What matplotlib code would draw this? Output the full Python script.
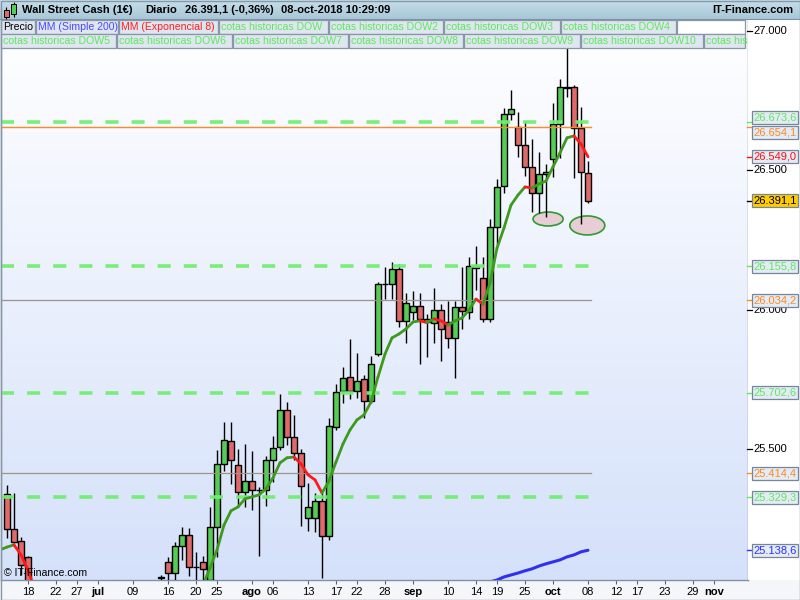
import numpy as np
import pandas as pd
import matplotlib
matplotlib.use('Agg')
import matplotlib.pyplot as plt
from matplotlib.patches import Rectangle, Ellipse
from matplotlib.collections import LineCollection
from matplotlib.colors import to_rgb

plt.rcParams['font.family'] = ['Liberation Sans', 'DejaVu Sans']
plt.rcParams['lines.scale_dashes'] = False

# ---------------- data ----------------
base_day = '2018-06-13'

# visible candles, block A (from 13-jun-2018)
start_a = '2018-06-13'
open_a = [25341, 25215, 25172, 25115]
high_a = [25373, 25344, 25187, 25118]
low_a = [25183, 25165, 25050, 24990]
close_a = [25215, 25169, 25086, 24996]

# visible candles, block B (from 13-jul-2018 to 08-oct-2018)
start_b = '2018-07-13'
open_b = [25042, 25097, 25057, 25154, 25194, 25080, 25097, 25032, 25223, 25448,
          25531, 25445, 25348, 25387, 25355, 25355, 25462, 25509, 25642, 25545,
          25487, 25255, 25255, 25315, 25190, 25581, 25710, 25760, 25710, 25753,
          25674, 25842, 26093, 26093, 26147, 25961, 25993, 26014, 25968, 25953,
          26000, 25957, 25900, 26011, 25993, 26158, 26115, 25968, 26297, 26444,
          26702, 26656, 26591, 26513, 26419, 26487, 26541, 26667, 26799, 26799,
          26652, 26491]
high_b = [25050, 25115, 25169, 25223, 25219, 25133, 25118, 25294, 25498, 25599,
          25599, 25502, 25520, 25495, 25366, 25477, 25548, 25699, 25670, 25624,
          25502, 25380, 25344, 25344, 25613, 25735, 25796, 25896, 25846, 25767,
          25835, 26100, 26154, 26172, 26165, 26061, 26068, 26061, 25986, 26079,
          26021, 26032, 26032, 26154, 26190, 26229, 26190, 26326, 26470, 26724,
          26788, 26710, 26677, 26613, 26566, 26523, 26742, 26828, 26939, 26806,
          26728, 26534]
low_b = [25010, 24996, 25014, 25104, 25047, 25032, 25014, 24996, 25115, 25423,
         25376, 25294, 25294, 25283, 25118, 25297, 25384, 25498, 25516, 25462,
         25226, 25208, 25204, 25040, 25176, 25570, 25667, 25681, 25685, 25613,
         25667, 25835, 26039, 26039, 25939, 25882, 25964, 25806, 25832, 25882,
         25817, 25864, 25756, 25932, 25968, 26072, 25957, 25957, 26233, 26419,
         26681, 26548, 26480, 26351, 26348, 26333, 26477, 26545, 26763, 26473,
         26308, 26384]
close_b = [25040, 25057, 25154, 25194, 25079, 25078, 25072, 25223, 25448, 25534,
           25462, 25348, 25387, 25355, 25354, 25462, 25505, 25642, 25545, 25487,
           25369, 25294, 25315, 25190, 25584, 25706, 25756, 25710, 25746, 25674,
           25806, 26093, 26092, 26147, 25961, 26025, 26014, 25968, 25957, 26000,
           25932, 25900, 26011, 25996, 26158, 26150, 25968, 26297, 26441, 26702,
           26720, 26591, 26513, 26419, 26487, 26495, 26667, 26799, 26797, 26652,
           26495, 26391.1]

# MM (Exponencial 8)
ema_a_start = '2018-06-12'
ema_a = [25140, 25150, 25158, 25122, 25068, 24996]
ema_b_start = '2018-07-23'
ema_b = [25014, 25075, 25140, 25229, 25280, 25294, 25323, 25330, 25337, 25359,
         25398, 25452, 25470, 25473, 25448, 25409, 25391, 25344, 25387, 25455,
         25520, 25570, 25606, 25624, 25670, 25760, 25842, 25900, 25914, 25932,
         25957, 25961, 25955, 25968, 25961, 25946, 25961, 25971, 26000, 26039,
         26021, 26097, 26222, 26294, 26376, 26412, 26441, 26437, 26452, 26462,
         26513, 26563, 26617, 26624, 26595, 26549.0]

# MM (Simple 200)
sma_start = '2018-09-17'
sma200 = [25014, 25025, 25032, 25043, 25050, 25057, 25065, 25072, 25082, 25090,
          25097, 25104, 25115, 25122, 25133, 25138.6]

# cotas historicas
dow_levels = [26673.6, 26155.8, 25702.6, 25329.3]
orange_level = 26654.1
gray_levels = [26034.2, 25414.4]

# marked lows (ellipses): centre day index, centre price, width (days), height (price)
ell_x = [77.3, 82.9]
ell_y = [26326, 26303]
ell_w = [4.3, 5.0]
ell_h = [50, 68]

price_ticks = [27000, 26500, 26000, 25500]
tick_dates = ['2018-06-18', '2018-06-22', '2018-06-27', '2018-07-02', '2018-07-09',
              '2018-07-16', '2018-07-20', '2018-07-25', '2018-08-01', '2018-08-06',
              '2018-08-13', '2018-08-17', '2018-08-22', '2018-08-28', '2018-09-03',
              '2018-09-10', '2018-09-14', '2018-09-19', '2018-09-25', '2018-10-01',
              '2018-10-08', '2018-10-12', '2018-10-17', '2018-10-23', '2018-10-29',
              '2018-11-01']
tick_labels = ['18', '22', '27', 'jul', '09', '16', '20', '25', 'ago', '06', '13', '17',
               '22', '28', 'sep', '10', '14', '19', '25', 'oct', '08', '12', '17', '23',
               '29', 'nov']

title_txt = 'Wall Street Cash (1€)'
period_txt = 'Diario'
last_txt = '26.391,1 (-0,36%)'
date_txt = '08-oct-2018 10:29:09'
brand_txt = 'IT-Finance.com'

# ---------------- helpers ----------------
def bidx(d):
    return int(np.busday_count(base_day, d))

def fmt(v, dec=1):
    s = f"{v:,.{dec}f}"
    return s.replace(',', 'X').replace('.', ',').replace('X', '.')

GREEN_C = '#55cc55'
RED_C = '#e06a6a'
DASH_G = '#72ee72'
LBL_G = '#5ee85e'
ORANGE = '#ff8a1e'

W, H = 800, 600
fig = plt.figure(figsize=(8, 6), dpi=100)
fig.patch.set_facecolor('#f4f6fa')

# layout in pixels
PL, PR, PT, PB = 1, 748, 19, 580
ax = fig.add_axes([PL / W, 1 - PB / H, (PR - PL) / W, (PB - PT) / H])
x_lo, x_hi = (PL - 7) / 7, (PR - 7) / 7
y_lo, y_hi = 25032, 27043
ax.set_xlim(x_lo, x_hi)
ax.set_ylim(y_lo, y_hi)

# background gradient
c_top = np.array(to_rgb('#ffffff'))
c_bot = np.array(to_rgb('#d5e1fa'))
t = np.linspace(0, 1, 256)[:, None]
grad = (c_top[None, :] * (1 - t) + c_bot[None, :] * t)[:, None, :]
ax.imshow(grad, extent=[x_lo, x_hi, y_lo, y_hi], aspect='auto', origin='upper', zorder=0)
ax.set_xlim(x_lo, x_hi)
ax.set_ylim(y_lo, y_hi)

x_end = bidx('2018-10-08') + 0.4

# candles
def draw_candles(start, o, h, l, c):
    x0 = bidx(start)
    for k in range(len(o)):
        x = x0 + k
        ax.vlines(x, l[k], h[k], color='black', lw=1.0, zorder=3)
        bottom = min(o[k], c[k])
        height = abs(c[k] - o[k])
        col = GREEN_C if c[k] > o[k] else RED_C
        ax.add_patch(Rectangle((x - 0.36, bottom), 0.72, max(height, 0.5),
                               facecolor=col, edgecolor='black', lw=1.0, zorder=3.2))

# ellipses (under candles)
for ex, ey, ew, eh in zip(ell_x, ell_y, ell_w, ell_h):
    ax.add_patch(Ellipse((ex, ey), ew, eh, facecolor='#e8cdd6', edgecolor='#2f9a2f',
                         lw=1.2, zorder=2.5))

draw_candles(start_a, open_a, high_a, low_a, close_a)
draw_candles(start_b, open_b, high_b, low_b, close_b)

# horizontal levels
for lv in dow_levels:
    ax.plot([x_lo, x_end], [lv, lv], color=DASH_G, lw=2.6, dashes=(9.4, 9.4),
            solid_capstyle='butt', dash_capstyle='butt', zorder=4, alpha=0.95)
ax.plot([x_lo, x_end], [orange_level] * 2, color=ORANGE, lw=1.0, zorder=4.1)
for lv in gray_levels:
    ax.plot([x_lo, x_end], [lv, lv], color='#a09488', lw=0.9, zorder=4.1)

# EMA 8 coloured by direction
def draw_ema(start, vals):
    x0 = bidx(start)
    xs = np.arange(len(vals)) + x0
    segs, cols = [], []
    for k in range(len(vals) - 1):
        segs.append([(xs[k], vals[k]), (xs[k + 1], vals[k + 1])])
        cols.append('#ff1a1a' if vals[k + 1] < vals[k] else '#3d9a1c')
    ax.add_collection(LineCollection(segs, colors=cols, linewidths=2.0,
                                     capstyle='round', zorder=5))

draw_ema(ema_a_start, ema_a)
draw_ema(ema_b_start, ema_b)

# SMA 200
xs_sma = np.arange(len(sma200)) + bidx(sma_start)
ax.plot(xs_sma, sma200, color='#3030ee', lw=2.2, zorder=5, solid_capstyle='round')

# watermark
ax.text(0.004, 0.003, '© IT-Finance.com', transform=ax.transAxes, fontsize=7.6,
        color='black', ha='left', va='bottom', zorder=6)

# x ticks
ax.set_xticks([bidx(d) for d in tick_dates])
ax.set_xticklabels(tick_labels)
for lab in ax.get_xticklabels():
    if lab.get_text().isalpha():
        lab.set_fontweight('bold')
ax.tick_params(axis='x', direction='out', length=3, width=0.8, color='#556677',
               labelsize=8, pad=1.8, labelcolor='black')
ax.set_yticks([])
ax.spines['top'].set_visible(False)
for s in ['left', 'right', 'bottom']:
    ax.spines[s].set_color('#8093a6')
    ax.spines[s].set_linewidth(1.0)

# right price panel
ax2 = fig.add_axes([PR / W, 1 - PB / H, (W - PR) / W, (PB - PT) / H])
ax2.set_facecolor('white')
ax2.set_xlim(0, W - PR)
ax2.set_ylim(y_lo, y_hi)
ax2.set_xticks([])
ax2.set_yticks([])
for s in ax2.spines.values():
    s.set_visible(False)

for v in price_ticks:
    ax2.plot([-1, 3.5], [v, v], color='black', lw=0.9, clip_on=False, zorder=2)
    ax2.text(5.0, v, fmt(v, 0), fontsize=8, color='black', ha='left', va='center', zorder=2)

boxed = [
    (26673.6, LBL_G, '#e4ebf5', LBL_G),
    (26654.1, ORANGE, '#e4ebf5', ORANGE),
    (26549.0, '#ff1010', '#e4ebf5', '#ff1010'),
    (26391.1, 'black', '#ffcc00', 'black'),
    (26155.8, LBL_G, '#e4ebf5', LBL_G),
    (26034.2, ORANGE, '#e4ebf5', ORANGE),
    (25702.6, LBL_G, '#e4ebf5', LBL_G),
    (25414.4, ORANGE, '#e4ebf5', ORANGE),
    (25329.3, LBL_G, '#e4ebf5', LBL_G),
    (25138.6, '#3030ff', '#e4ebf5', '#3030ff'),
]

def resolve(vals, gap):
    pos = list(vals)
    order = sorted(range(len(vals)), key=lambda k: -vals[k])
    for _ in range(50):
        moved = False
        for a, b in zip(order[:-1], order[1:]):
            if pos[a] - pos[b] < gap - 1e-6:
                m = (pos[a] + pos[b]) / 2
                pos[a], pos[b] = m + gap / 2, m - gap / 2
                moved = True
        if not moved:
            break
    return pos

ppx = (y_hi - y_lo) / (PB - PT)
label_pos = resolve([b[0] for b in boxed], 15 * ppx)
for (v, tc, fc, kc), p in zip(boxed, label_pos):
    ax2.plot([-1, 4], [v, v], color=kc, lw=1.0, clip_on=False, zorder=3)
    ax2.text(5.5, p, fmt(v), fontsize=8, color=tc, ha='left', va='center', zorder=4,
             bbox=dict(boxstyle='square,pad=0.13', facecolor=fc, edgecolor='#74869a', lw=0.9))

# ---------------- overlay: header & legend ----------------
ov = fig.add_axes([0, 0, 1, 1], zorder=10)
ov.patch.set_alpha(0)
ov.axis('off')

h_top = np.array(to_rgb('#c6deea'))
h_bot = np.array(to_rgb('#a8c7d7'))
tg = np.linspace(0, 1, 64)[:, None]
hgrad = (h_top[None, :] * (1 - tg) + h_bot[None, :] * tg)[:, None, :]
ov.imshow(hgrad, extent=[0, W, 19, 0], aspect='auto', origin='upper', zorder=1)
ov.set_xlim(0, W)
ov.set_ylim(H, 0)
ov.plot([0, W], [19, 19], color='#7d93a5', lw=0.8, zorder=2)

# icon
ov.vlines(6, 7, 19, color='black', lw=0.8, zorder=3)
ov.add_patch(Rectangle((3.5, 10), 5, 7, facecolor=RED_C, edgecolor='black', lw=0.7, zorder=3.1))
ov.vlines(13.5, 2, 17, color='black', lw=0.8, zorder=3)
ov.add_patch(Rectangle((11, 4), 5, 10, facecolor=GREEN_C, edgecolor='black', lw=0.7, zorder=3.1))

HFS = 8.0
ov.text(22.5, 10, title_txt, fontsize=HFS, fontweight='bold', va='center', ha='left', zorder=3)
ov.text(145.5, 10, period_txt, fontsize=HFS, fontweight='bold', va='center', ha='left', zorder=3)
ov.text(185, 10, last_txt, fontsize=HFS, fontweight='bold', va='center', ha='left', zorder=3)
ov.text(281, 10, date_txt, fontsize=HFS, fontweight='bold', va='center', ha='left', zorder=3)
ov.text(793, 10, brand_txt, fontsize=HFS, fontweight='bold', va='center', ha='right', zorder=3)

row1 = [(1, 35, 'Precio', 'black'), (36, 118, 'MM (Simple 200)', '#4848ff'),
        (119, 218, 'MM (Exponencial 8)', '#ff2020'),
        (219, 328, 'cotas historicas DOW', LBL_G), (329, 443, 'cotas historicas DOW2', LBL_G),
        (444, 560, 'cotas historicas DOW3', LBL_G), (561, 676, 'cotas historicas DOW4', LBL_G),
        (677, 745, '', None)]
row2 = [(1, 116, 'cotas historicas DOW5', LBL_G), (117, 232, 'cotas historicas DOW6', LBL_G),
        (233, 348, 'cotas historicas DOW7', LBL_G), (349, 463, 'cotas historicas DOW8', LBL_G),
        (464, 580, 'cotas historicas DOW9', LBL_G), (581, 703, 'cotas historicas DOW10', LBL_G),
        (704, 745, 'cotas his', LBL_G)]

for (rows, y0) in [(row1, 19.5), (row2, 33.5)]:
    for (a, b, txt, col) in rows:
        fc = 'white' if col is None else '#dfe6ef'
        r = Rectangle((a, y0), b - a, 14, facecolor=fc, edgecolor='#8797a8', lw=0.9, zorder=2)
        ov.add_patch(r)
        if txt:
            ov.text(a + 2.0, y0 + 7.3, txt, fontsize=7.6, color=col, va='center',
                    ha='left', zorder=3, clip_on=True, clip_path=r)

# outer border
ov.add_patch(Rectangle((0.5, 0.5), W - 1, H - 1, facecolor='none', edgecolor='#8797a8',
                       lw=1.0, zorder=5))

fig.savefig('out.png', dpi=100)
